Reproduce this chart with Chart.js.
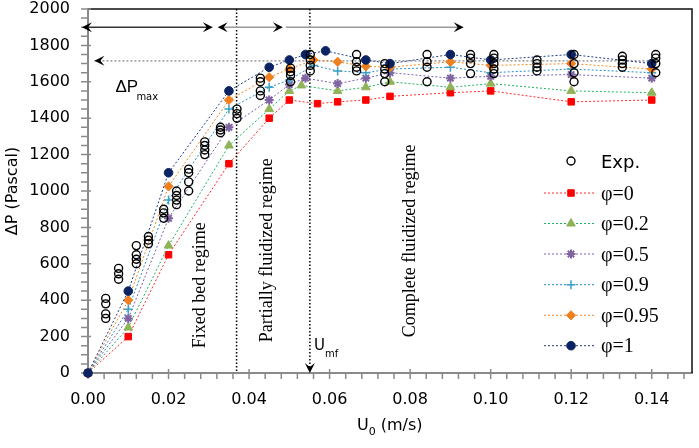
<!DOCTYPE html>
<html>
<head>
<title>Pressure drop vs superficial velocity</title>
<script src="https://cdn.jsdelivr.net/npm/chart.js"></script>
<style>
  body { margin: 0; background: #fff; }
  #wrap { width: 699px; height: 448px; }
</style>
</head>
<body>
<div id="wrap"><canvas id="chart"></canvas></div>
<script>
// superficial velocity U0 (m/s) where the model points sit
const U = [0, 0.01, 0.02, 0.035, 0.045, 0.05, 0.053, 0.054, 0.056, 0.057, 0.059, 0.062, 0.069, 0.075, 0.09, 0.10, 0.12, 0.14];

// model pressure drop (Pa), null where a series has no point
const phi0   = [0, 200, 650, 1150, 1400, 1500, null, null, null, 1480, null, 1490, 1500, 1520, 1540, 1550, 1490, 1500];
const phi02  = [0, 250, 700, 1250, 1450, 1550, 1580, null, null, null, null, 1550, 1570, 1600, 1570, 1590, 1550, 1540];
const phi05  = [0, 300, 850, 1350, 1500, 1585, null, 1620, null, null, null, 1590, 1620, 1650, 1620, 1630, 1640, 1620];
const phi09  = [0, 350, 950, 1450, 1570, 1610, null, null, 1690, null, null, 1660, 1650, 1670, 1680, 1650, 1670, 1650];
const phi095 = [0, 400, 1025, 1500, 1625, 1670, null, null, 1720, null, null, 1710, 1685, 1680, 1710, 1690, 1700, 1670];
const phi1   = [0, 450, 1100, 1550, 1680, 1720, null, 1750, null, null, 1770, null, 1720, 1700, 1750, 1720, 1750, 1700];

// experimental points: one column of readings per velocity
const expU = [0.0044, 0.0076, 0.012, 0.015, 0.0188, 0.022, 0.025, 0.029, 0.0329, 0.037, 0.0428,
              0.0503, 0.0552, 0.0667, 0.0737, 0.0842, 0.095, 0.1008, 0.1115, 0.1207, 0.1327, 0.141];
const expDP = [
  [410, 380, 325, 300], [575, 545, 515], [700, 650, 625, 600], [750, 730, 710], [900, 880, 850],
  [1000, 975, 950, 925], [1120, 1100, 1050, 1000], [1270, 1250, 1225, 1200], [1350, 1335, 1320],
  [1450, 1425, 1400], [1620, 1600, 1550, 1525], [1675, 1655, 1635, 1600], [1750, 1720, 1690, 1660],
  [1750, 1710, 1680, 1660], [1700, 1670, 1645, 1600], [1750, 1710, 1680, 1600], [1750, 1730, 1700, 1645],
  [1750, 1730, 1700, 1670, 1645], [1720, 1700, 1680, 1660], [1750, 1700, 1650, 1600],
  [1740, 1720, 1700, 1680], [1750, 1730, 1700, 1650]
];

const xTicks = [0, 0.02, 0.04, 0.06, 0.08, 0.10, 0.12, 0.14];
const yTicks = [0, 200, 400, 600, 800, 1000, 1200, 1400, 1600, 1800, 2000];
const labels = ['φ=0', 'φ=0.2', 'φ=0.5', 'φ=0.9', 'φ=0.95', 'φ=1'];

// annotations in data units
const Umf = 0.0551, fixedEnd = 0.0369, dPmax = 1715, arrowY = 1900;
const regimeArrows = [[-0.0015, 0.031, true], [0.0322, 0.0484, true], [0.0484, 0.0933, false]];
const regimeText = [['Fixed bed regime', 0.0291, 136], ['Partially fluidized regime', 0.0458, 169], ['Complete fluidized regime', 0.0813, 196]];

const styles = [
  { line: '#ff2a2a', fill: '#ff0000', shape: 'rect', r: 4.6 },
  { line: '#22b060', fill: '#8fb356', shape: 'triangle', r: 5 },
  { line: '#7d5fb8', fill: '#8064a2', shape: 'star', r: 4.5, bw: 2 },
  { line: '#2b8fc4', fill: '#3aa0c8', shape: 'cross', r: 4.5, bw: 1.5 },
  { line: '#f08a24', fill: '#f07f1e', shape: 'rectRot', r: 4.6 },
  { line: '#1f3c86', fill: '#0b2363', shape: 'circle', r: 4.3 }
];
const values = [phi0, phi02, phi05, phi09, phi095, phi1];

const datasets = [{
  label: 'Exp.',
  data: expU.flatMap((u, i) => expDP[i].map(v => ({ x: u, y: v }))),
  showLine: false, pointStyle: 'circle', pointRadius: 4, pointBorderWidth: 1.4,
  pointBorderColor: '#000', pointBackgroundColor: 'rgba(0,0,0,0)', order: 0, clip: false
}];
values.forEach((vals, i) => {
  const s = styles[i];
  datasets.push({
    label: labels[i],
    data: U.map((u, k) => ({ x: u, y: vals[k] })).filter(p => p.y !== null),
    showLine: true, borderColor: s.line, borderWidth: 1, borderDash: [2, 2],
    pointStyle: s.shape, pointRadius: s.r, pointBorderWidth: s.bw || 1,
    pointBackgroundColor: s.fill, pointBorderColor: s.fill,
    order: 6 - i, clip: false
  });
});

function head(ctx, x, y, ang) {
  ctx.save();
  ctx.translate(x, y); ctx.rotate(ang);
  ctx.beginPath();
  ctx.moveTo(0, 0); ctx.lineTo(-10, -5); ctx.lineTo(-6, 0); ctx.lineTo(-10, 5);
  ctx.closePath(); ctx.fill();
  ctx.restore();
}

const deco = {
  id: 'deco',
  beforeDatasetsDraw(chart) {
    const { ctx, chartArea: a, scales: { x, y } } = chart;
    ctx.save();
    // frame on top and right
    ctx.strokeStyle = '#111'; ctx.lineWidth = 1.5;
    ctx.beginPath(); ctx.moveTo(a.left, a.top); ctx.lineTo(a.right, a.top); ctx.lineTo(a.right, a.bottom); ctx.stroke();

    // tick marks
    ctx.strokeStyle = '#8a8a8a'; ctx.lineWidth = 1.5; ctx.beginPath();
    for (let i = 0; i <= 40; i++) {
      const py = y.getPixelForValue(i * 50), major = i % 4 === 0;
      ctx.moveTo(a.left - 7, py); ctx.lineTo(a.left + (major ? 3 : 0), py);
    }
    for (let i = 0; i <= 37; i++) {
      const px = x.getPixelForValue(i * 0.004), major = i % 5 === 0;
      ctx.moveTo(px, a.bottom + 6); ctx.lineTo(px, a.bottom - (major ? 4 : 1));
    }
    ctx.stroke();

    // regime boundaries
    ctx.strokeStyle = '#000'; ctx.lineWidth = 1.5; ctx.setLineDash([1.5, 2]);
    ctx.beginPath();
    [fixedEnd, Umf].forEach(u => {
      const px = x.getPixelForValue(u);
      ctx.moveTo(px, a.top); ctx.lineTo(px, a.bottom - 2);
    });
    ctx.stroke();
    ctx.fillStyle = '#000';
    head(ctx, x.getPixelForValue(Umf), a.bottom, Math.PI / 2);

    // dP max line
    ctx.strokeStyle = '#9a9a9a'; ctx.setLineDash([2, 2]);
    const py = y.getPixelForValue(dPmax);
    ctx.beginPath(); ctx.moveTo(x.getPixelForValue(0.0016), py); ctx.lineTo(x.getPixelForValue(0.142), py); ctx.stroke();
    ctx.setLineDash([]);
    head(ctx, x.getPixelForValue(0.0016), py, Math.PI);

    // regime arrows
    const ay = y.getPixelForValue(arrowY);
    regimeArrows.forEach(([u0, u1, both], i) => {
      const p0 = x.getPixelForValue(u0), p1 = x.getPixelForValue(u1);
      ctx.strokeStyle = i === 0 ? '#333' : '#999'; ctx.lineWidth = 1.5;
      ctx.beginPath(); ctx.moveTo(p0 + 3, ay); ctx.lineTo(p1 - 3, ay); ctx.stroke();
      head(ctx, p1, ay, 0);
      if (both) head(ctx, p0, ay, Math.PI);
    });

    // regime labels
    ctx.font = '18px "Liberation Serif"'; ctx.fillStyle = '#000'; ctx.textAlign = 'left'; ctx.textBaseline = 'alphabetic';
    regimeText.forEach(([t, u, v]) => {
      ctx.save();
      ctx.translate(x.getPixelForValue(u), y.getPixelForValue(v));
      ctx.rotate(-Math.PI / 2);
      ctx.fillText(t, 0, 0);
      ctx.restore();
    });

    // dP max and Umf labels
    ctx.font = '17px "Liberation Sans"';
    ctx.fillText('ΔP', x.getPixelForValue(0.0068), y.getPixelForValue(1544));
    ctx.font = '10px "DejaVu Sans"';
    ctx.fillText('max', x.getPixelForValue(0.0068) + 21, y.getPixelForValue(1544) + 8);
    ctx.font = '15px "DejaVu Sans"';
    ctx.fillText('U', x.getPixelForValue(0.0561), y.getPixelForValue(129));
    ctx.font = '10px "DejaVu Sans"';
    ctx.fillText('mf', x.getPixelForValue(0.0561) + 11, y.getPixelForValue(129) + 7);
    ctx.restore();
  },
  afterDraw(chart) {
    const { ctx, chartArea: a } = chart;
    ctx.save();
    ctx.fillStyle = '#000';
    // axis titles
    ctx.font = '16px "DejaVu Sans"'; ctx.textBaseline = 'alphabetic';
    ctx.save();
    ctx.translate(17, (a.top + a.bottom) / 2); ctx.rotate(-Math.PI / 2);
    ctx.textAlign = 'center'; ctx.fillText('ΔP (Pascal)', 0, 0);
    ctx.restore();
    ctx.textAlign = 'left';
    let tx = (a.left + a.right) / 2 - 33;
    ctx.fillText('U', tx, 430); tx += ctx.measureText('U').width;
    ctx.font = '11px "DejaVu Sans"'; ctx.fillText('0', tx, 435); tx += ctx.measureText('0').width;
    ctx.font = '16px "DejaVu Sans"'; ctx.fillText(' (m/s)', tx, 430);

    // legend
    const mx = 571, lx0 = 544, lx1 = 595, txX = 601;
    const rows = [161, 193, 223.5, 254, 284.7, 315.3, 345.7];
    ctx.strokeStyle = '#000'; ctx.lineWidth = 1.4;
    ctx.beginPath(); ctx.arc(mx, rows[0], 4, 0, Math.PI * 2); ctx.stroke();
    ctx.font = '18px "DejaVu Sans"';
    ctx.fillText('Exp.', txX, rows[0] + 6.5);
    styles.forEach((s, i) => {
      const ry = rows[i + 1];
      ctx.strokeStyle = s.line; ctx.lineWidth = 1; ctx.setLineDash([2, 2]);
      ctx.beginPath(); ctx.moveTo(lx0, ry); ctx.lineTo(lx1, ry); ctx.stroke();
      ctx.setLineDash([]);
      ctx.fillStyle = s.fill; ctx.strokeStyle = s.fill; ctx.lineWidth = s.bw || 1;
      Chart.helpers.drawPoint(ctx, { pointStyle: s.shape, radius: s.r, borderWidth: s.bw || 1 }, mx, ry);
      ctx.fillStyle = '#000';
      ctx.font = '20px "Liberation Serif"';
      ctx.fillText(labels[i], txX, ry + 6.7);
    });
    ctx.restore();
  }
};

Chart.defaults.font.family = '"DejaVu Sans"';
Chart.defaults.color = '#000';

new Chart(document.getElementById('chart'), {
  type: 'line',
  data: { datasets },
  plugins: [deco],
  options: {
    responsive: true, maintainAspectRatio: false, animation: false, devicePixelRatio: 1,
    layout: { padding: { top: 9, right: 7, left: 0, bottom: 0 } },
    plugins: { legend: { display: false }, tooltip: { enabled: false } },
    scales: {
      x: {
        type: 'linear', min: 0, max: 0.15,
        grid: { display: false, drawTicks: false },
        border: { display: true, color: '#8a8a8a', width: 2 },
        ticks: { font: { size: 16 }, padding: 17, maxRotation: 0, callback: v => v.toFixed(2) },
        afterBuildTicks: s => { s.ticks = xTicks.map(value => ({ value })); },
        afterFit: s => { s.height = 75; s.paddingLeft = 0; s.paddingRight = 0; }
      },
      y: {
        type: 'linear', min: 0, max: 2000,
        grid: { display: false, drawTicks: false },
        border: { display: true, color: '#8a8a8a', width: 2 },
        ticks: { font: { size: 16 }, padding: 18, callback: v => v },
        afterBuildTicks: s => { s.ticks = yTicks.map(value => ({ value })); },
        afterFit: s => { s.width = 88; s.paddingTop = 0; s.paddingBottom = 0; }
      }
    }
  }
});
</script>
</body>
</html>
